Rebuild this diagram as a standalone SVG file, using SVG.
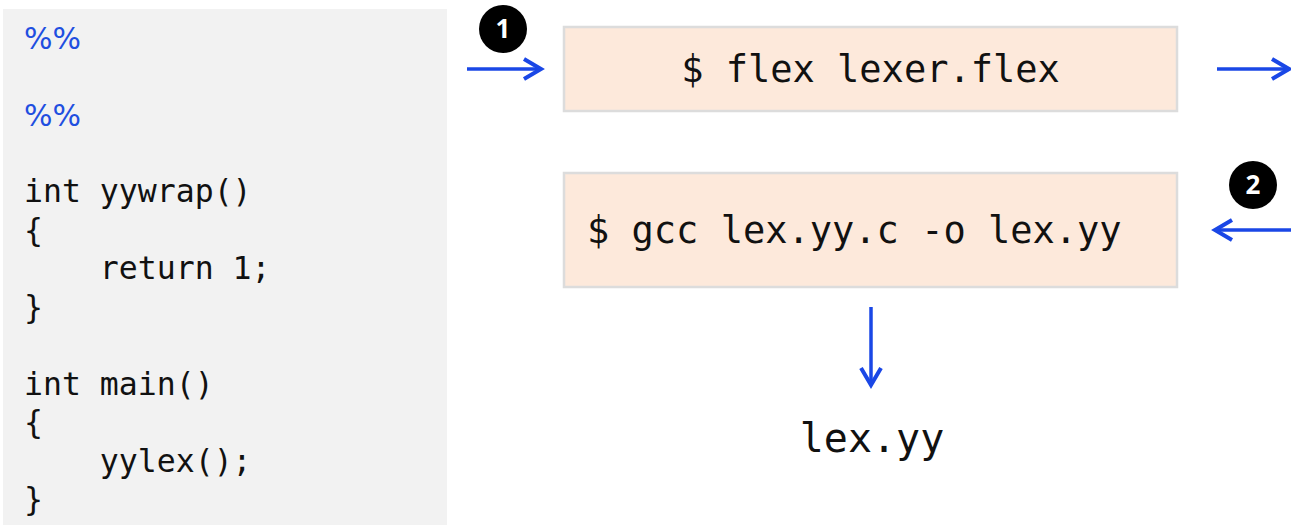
<svg xmlns="http://www.w3.org/2000/svg" width="1291" height="525" viewBox="0 0 1291 525">
  <style>
    .code { font-family: "DejaVu Sans Mono", "Liberation Mono", monospace; font-size: 31.5px; fill: #111; }
    .kw { font-family: "DejaVu Sans", "Noto Sans", sans-serif; font-size: 30px; fill: #1f4fe0; }
    .cmd { font-family: "DejaVu Sans Mono", "Liberation Mono", monospace; font-size: 37px; fill: #111; }
    .box { fill: #fde9db; stroke: #dcdcdc; stroke-width: 2.5; }
    .badge { fill: #000; }
    .num { font-family: "Open Sans", "DejaVu Sans", sans-serif; font-weight: bold; font-size: 26px; fill: #fff; text-anchor: middle; }
    .flow { stroke: #1a47e6; stroke-width: 3.5; fill: none; }
    .out { font-family: "DejaVu Sans Mono", "Liberation Mono", monospace; font-size: 40px; fill: #111; }
  </style>
  <defs>
    <marker id="chevron" markerUnits="userSpaceOnUse" markerWidth="26" markerHeight="26" viewBox="-21 -13 26 26" refX="0" refY="0" orient="auto">
      <polyline points="-17,-10 0,0 -17,10" fill="none" stroke="#1a47e6" stroke-width="4" stroke-linejoin="miter"/>
    </marker>
  </defs>

  <rect width="1291" height="525" fill="#fff"/>

  <!-- lexer source listing -->
  <g id="source">
    <rect x="3" y="9" width="444" height="516" fill="#f2f2f2"/>
    <text class="kw" x="24" y="49">%%</text>
    <text class="kw" x="24" y="126">%%</text>
    <text class="code" x="24" y="202">int yywrap()</text>
    <text class="code" x="24" y="241">{</text>
    <text class="code" x="24" y="279" xml:space="preserve">    return 1;</text>
    <text class="code" x="24" y="318">}</text>
    <text class="code" x="24" y="395">int main()</text>
    <text class="code" x="24" y="433">{</text>
    <text class="code" x="24" y="472" xml:space="preserve">    yylex();</text>
    <text class="code" x="24" y="510">}</text>
  </g>

  <!-- step 1: generate the scanner -->
  <g id="flex-step">
    <rect class="box" x="564" y="27" width="613" height="84"/>
    <text class="cmd" x="870.5" y="82" text-anchor="middle">$ flex lexer.flex</text>
  </g>

  <!-- step 2: compile the scanner -->
  <g id="gcc-step">
    <rect class="box" x="564" y="173" width="613" height="114"/>
    <text class="cmd" x="587" y="243">$ gcc lex.yy.c -o lex.yy</text>
  </g>

  <g id="badge-1">
    <circle class="badge" cx="503" cy="29" r="24"/>
    <text class="num" x="503" y="38">1</text>
  </g>

  <g id="badge-2">
    <circle class="badge" cx="1253" cy="185" r="24"/>
    <text class="num" x="1253" y="194">2</text>
  </g>

  <g id="result">
    <text class="out" x="872" y="452" text-anchor="middle">lex.yy</text>
  </g>

  <g id="connectors">
    <line class="flow" x1="467" y1="69" x2="541" y2="69" marker-end="url(#chevron)"/>
    <line class="flow" x1="1217" y1="69" x2="1289" y2="69" marker-end="url(#chevron)"/>
    <line class="flow" x1="1291" y1="230" x2="1215" y2="230" marker-end="url(#chevron)"/>
    <line class="flow" x1="871" y1="307" x2="871" y2="385" marker-end="url(#chevron)"/>
  </g>
</svg>
